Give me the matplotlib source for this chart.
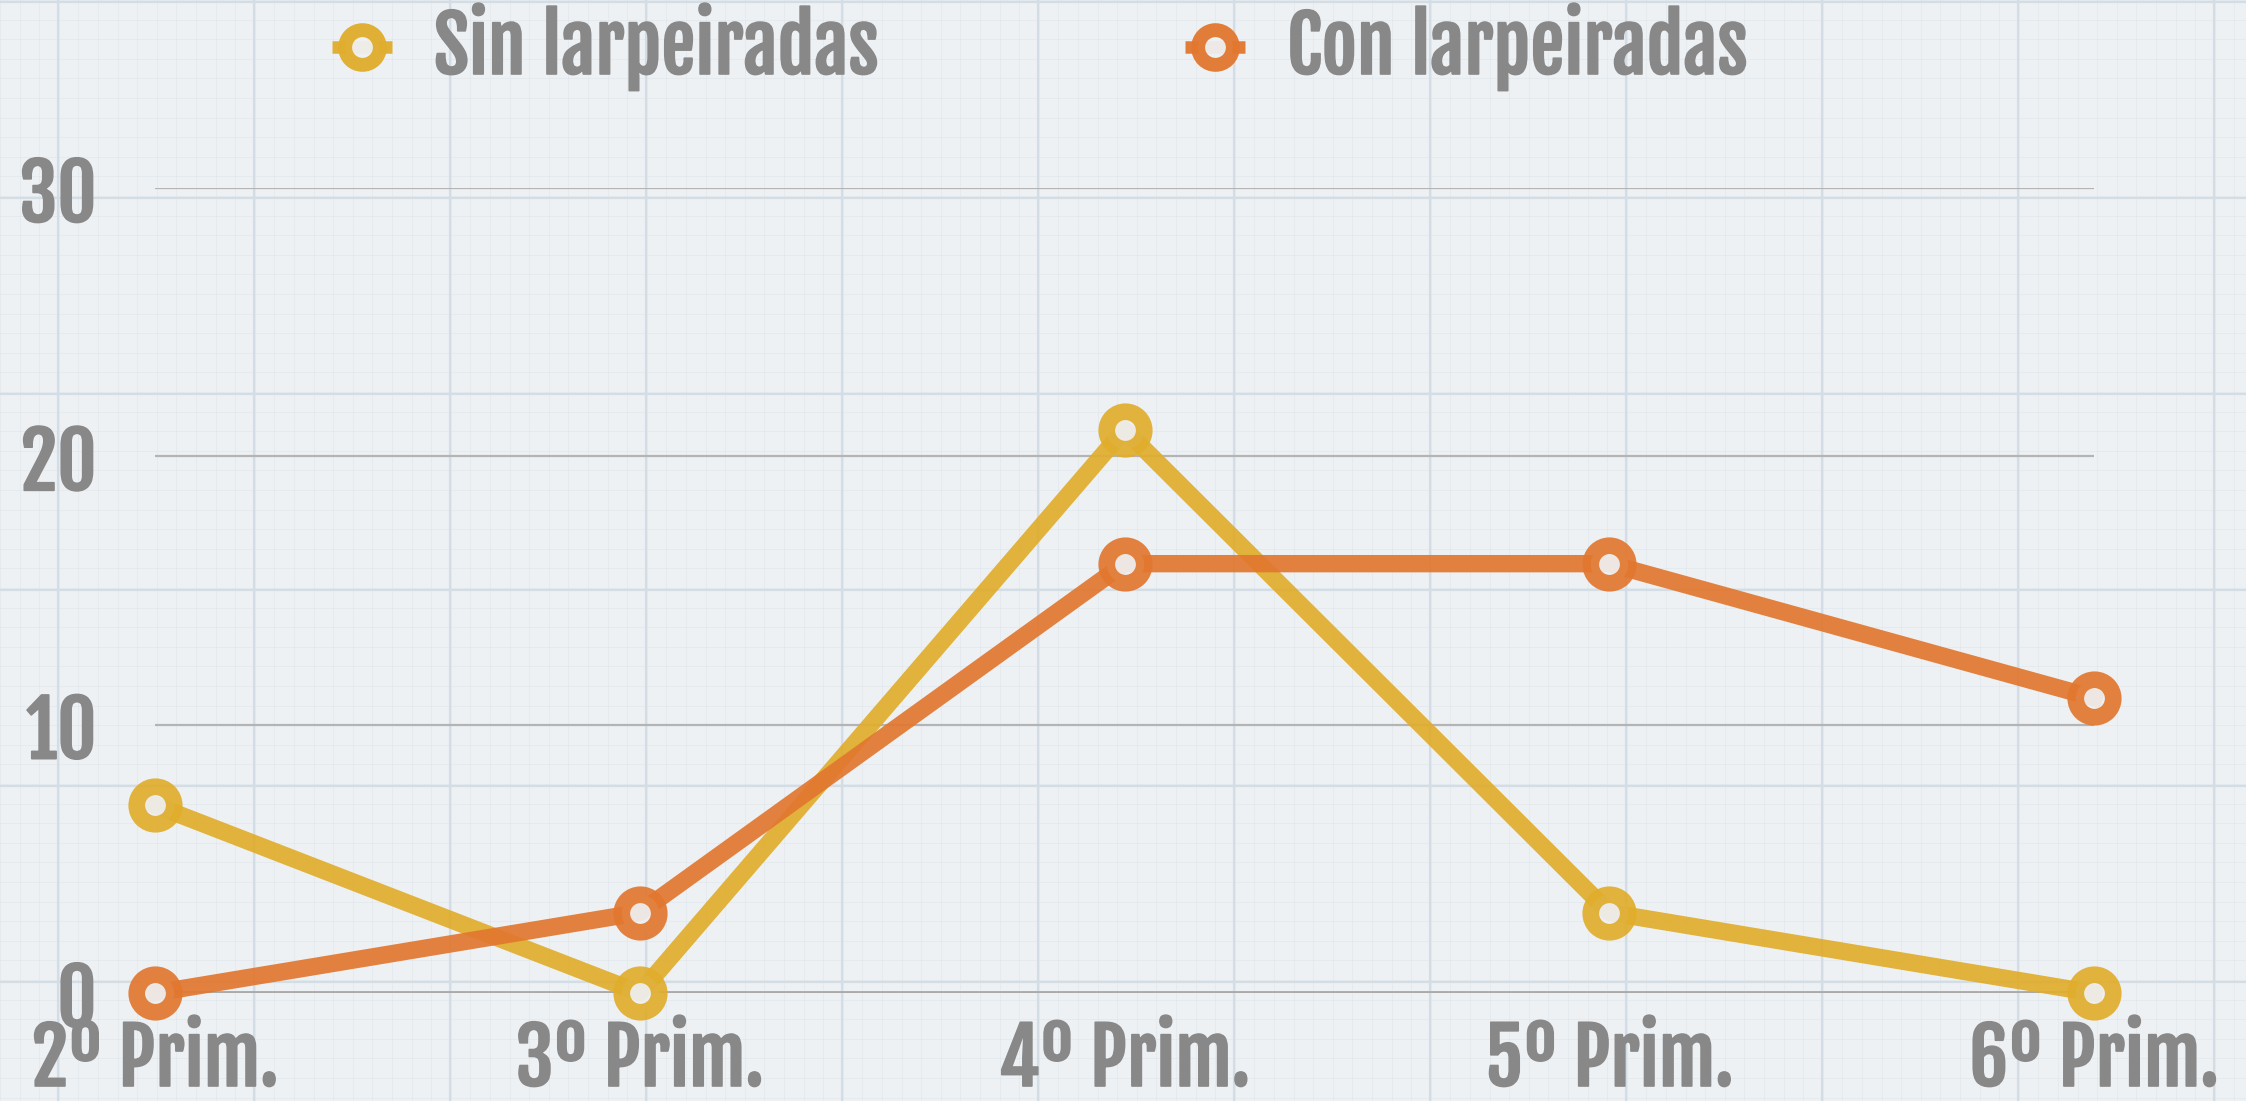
import matplotlib
matplotlib.use("Agg")
import matplotlib.pyplot as plt
import matplotlib.patheffects as pe
import numpy as np

categories = ["2º Prim.", "3º Prim.", "4º Prim.", "5º Prim.", "6º Prim."]
sin_larpeiradas = [7, 0, 21, 3, 0]
con_larpeiradas = [0, 3, 16, 16, 11]
series_names = ["Sin larpeiradas", "Con larpeiradas"]
y_ticks = [0, 10, 20, 30]

YELLOW = "#E0AD2C"
ORANGE = "#E2772F"
TEXT = "#888888"
BG = "#EEF1F4"
HOLE = "#EEF0F2"

FONT = ["Fjalla One", "DejaVu Sans"]
FS = 55
BOLDEN = [pe.withStroke(linewidth=1.2, foreground=TEXT)]

W, H = 2246, 1101
fig = plt.figure(figsize=(W / 100, H / 100), dpi=100, facecolor=BG)

# graph-paper background (pixel coordinates)
bg = fig.add_axes([0, 0, 1, 1], zorder=0)
bg.set_xlim(0, W)
bg.set_ylim(H, 0)
bg.axis("off")
bg.set_facecolor(BG)
for xv in np.arange(0, W, 19.6):
    bg.axvline(xv, color="#dde4ea", lw=0.6, alpha=0.6)
for yv in np.arange(0, H, 19.6):
    bg.axhline(yv, color="#dde4ea", lw=0.6, alpha=0.6)
for xv in np.arange(58, W, 196):
    bg.axvline(xv, color="#d3dde5", lw=1.6)
for yv in np.arange(0, H, 196) + 2:
    bg.axhline(yv, color="#d3dde5", lw=1.6)

ax = fig.add_axes([155 / W, 1 - 993 / H, (2094 - 155) / W, (993 - 188) / H], zorder=2)
ax.patch.set_alpha(0)
ax.set_xlim(0, len(categories) - 1)
ax.set_ylim(0, 30)
for s in ax.spines.values():
    s.set_visible(False)

for t in y_ticks[1:]:
    ax.axhline(t, color="#b4b4b4", lw=1.6, zorder=1)
ax.axhline(0, color="#aaaaaa", lw=3.5, zorder=1)

x = np.arange(len(categories))
common = dict(lw=12.5, marker="o", ms=27, mew=12, mfc=HOLE, clip_on=False, alpha=0.92, zorder=3)
ax.plot(x, sin_larpeiradas, color=YELLOW, mec=YELLOW, **common)
ax.plot(x, con_larpeiradas, color=ORANGE, mec=ORANGE, **common)

ax.set_yticks(y_ticks)
ax.set_yticklabels([str(t) for t in y_ticks])
ax.set_xticks(x)
ax.set_xticklabels(categories)
ax.tick_params(axis="both", length=0, colors=TEXT, labelsize=FS)
ax.tick_params(axis="y", pad=42)
ax.tick_params(axis="x", pad=18)
for lab in ax.get_xticklabels() + ax.get_yticklabels():
    lab.set_family(FONT)
    lab.set_path_effects(BOLDEN)

# legend drawn in figure pixel coordinates
legend_marker_x = [362, 1215]
legend_colors = [YELLOW, ORANGE]
for mx, col, name in zip(legend_marker_x, legend_colors, series_names):
    bg.plot([mx - 30, mx + 30], [47, 47], color=col, lw=9, solid_capstyle="butt", alpha=0.95)
    bg.plot([mx], [47], marker="o", ms=25, mew=10, mec=col, mfc=HOLE, alpha=0.95)
    bg.text(mx + 72, 47, name, family=FONT, fontsize=FS, color=TEXT, va="center", ha="left",
            path_effects=BOLDEN)

fig.savefig("out.png", dpi=100, facecolor=BG)
